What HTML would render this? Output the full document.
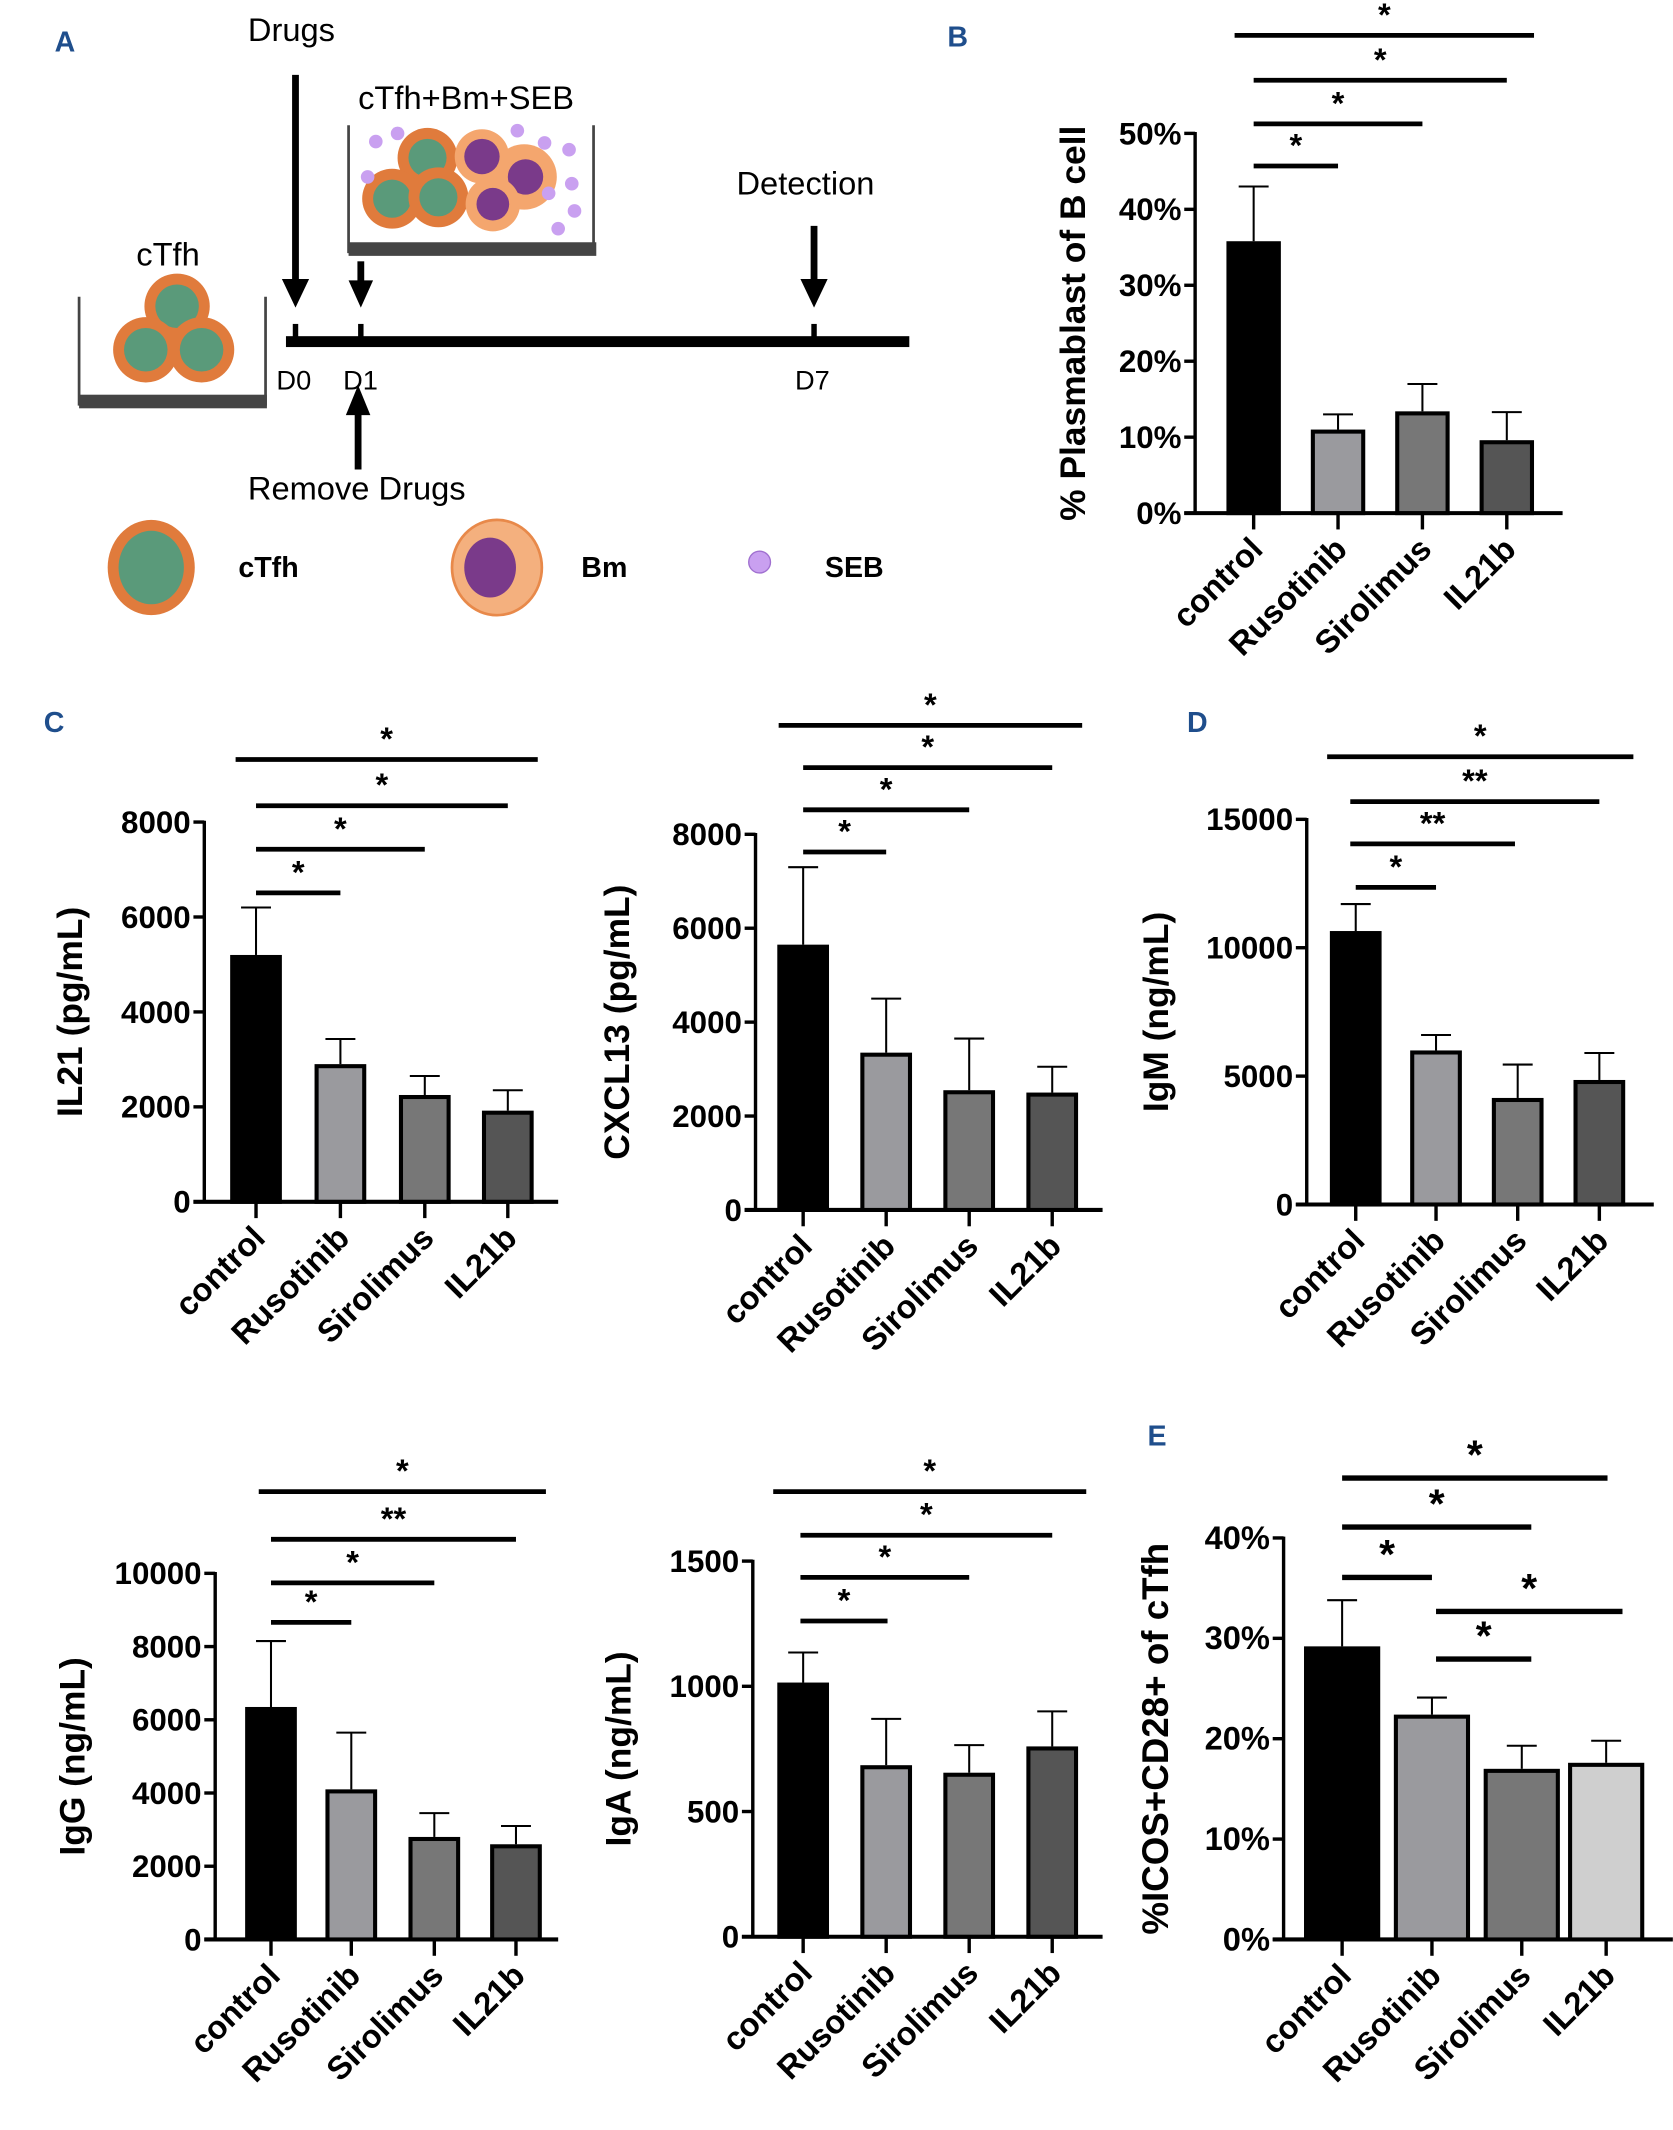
<!DOCTYPE html>
<html><head><meta charset="utf-8"><style>
html,body{margin:0;padding:0;background:#fff}
svg{display:block}
text{font-family:"Liberation Sans",Arial,sans-serif}
</style></head><body>
<svg id="fig" width="1673" height="2130" viewBox="0 0 1229 1565" xmlns="http://www.w3.org/2000/svg">
<rect width="1229" height="1565" fill="#fff"/>
<g font-weight="bold" fill="#1f4e8c" font-size="21">
<text x="40" y="38">A</text>
<text x="696" y="34">B</text>
<text x="32" y="538">C</text>
<text x="872" y="538">D</text>
<text x="843" y="1062">E</text>
</g>
<g id="schematic">
<text x="182" y="30" font-size="24">Drugs</text>
<line x1="217" y1="55" x2="217" y2="210" stroke="#000" stroke-width="5"/>
<polygon points="207,205 227,205 217,226" fill="#000"/>
<text x="263" y="80" font-size="24">cTfh+Bm+SEB</text>
<rect x="254" y="92" width="184" height="98" fill="#fff"/>
<line x1="256" y1="92" x2="256" y2="186" stroke="#444" stroke-width="2"/>
<line x1="436" y1="92" x2="436" y2="186" stroke="#444" stroke-width="2"/>
<rect x="256" y="178" width="182" height="10" fill="#444"/>
<g>
<circle cx="385" cy="130" r="24" fill="#f4a66e"/>
<circle cx="314" cy="116" r="22" fill="#e07b3c"/><circle cx="314" cy="116" r="14" fill="#5a9a7a"/>
<circle cx="288" cy="146" r="22" fill="#e07b3c"/><circle cx="288" cy="146" r="14" fill="#5a9a7a"/>
<circle cx="322" cy="145" r="22" fill="#e07b3c"/><circle cx="322" cy="145" r="14" fill="#5a9a7a"/>
<circle cx="354" cy="115" r="20" fill="#f4a66e"/><circle cx="354" cy="115" r="13" fill="#7a3a8a"/>
<circle cx="386" cy="130" r="13" fill="#7a3a8a"/>
<circle cx="362" cy="150" r="20" fill="#f4a66e"/><circle cx="362" cy="150" r="12" fill="#7a3a8a"/>
<circle cx="276" cy="104" r="5" fill="#c9a0f0"/><circle cx="292" cy="98" r="5" fill="#c9a0f0"/><circle cx="380" cy="96" r="5" fill="#c9a0f0"/><circle cx="400" cy="105" r="5" fill="#c9a0f0"/><circle cx="418" cy="110" r="5" fill="#c9a0f0"/><circle cx="420" cy="135" r="5" fill="#c9a0f0"/><circle cx="422" cy="155" r="5" fill="#c9a0f0"/><circle cx="410" cy="168" r="5" fill="#c9a0f0"/><circle cx="270" cy="130" r="5" fill="#c9a0f0"/><circle cx="403" cy="142" r="5" fill="#c9a0f0"/>
</g>
<text x="100" y="195" font-size="24">cTfh</text>
<line x1="58" y1="218" x2="58" y2="298" stroke="#444" stroke-width="2"/>
<line x1="195" y1="218" x2="195" y2="298" stroke="#444" stroke-width="2"/>
<rect x="58" y="290" width="138" height="10" fill="#444"/>
<g>
<circle cx="130" cy="225" r="24" fill="#e07b3c"/><circle cx="130" cy="225" r="16" fill="#5a9a7a"/>
<circle cx="107" cy="257" r="24" fill="#e07b3c"/><circle cx="107" cy="257" r="16" fill="#5a9a7a"/>
<circle cx="148" cy="257" r="24" fill="#e07b3c"/><circle cx="148" cy="257" r="16" fill="#5a9a7a"/>
</g>
<line x1="265" y1="192" x2="265" y2="210" stroke="#000" stroke-width="5"/>
<polygon points="256,206 274,206 265,226" fill="#000"/>
<text x="541" y="143" font-size="24">Detection</text>
<line x1="598" y1="166" x2="598" y2="210" stroke="#000" stroke-width="5"/>
<polygon points="588,205 608,205 598,226" fill="#000"/>
<rect x="210" y="247" width="458" height="8" fill="#000"/>
<line x1="217" y1="238" x2="217" y2="248" stroke="#000" stroke-width="4"/>
<line x1="265" y1="238" x2="265" y2="248" stroke="#000" stroke-width="4"/>
<line x1="598" y1="238" x2="598" y2="248" stroke="#000" stroke-width="4"/>
<text x="203" y="286" font-size="20">D0</text><text x="252" y="286" font-size="20">D1</text><text x="584" y="286" font-size="20">D7</text>
<line x1="263" y1="300" x2="263" y2="345" stroke="#000" stroke-width="5"/>
<polygon points="254,305 272,305 263,283" fill="#000"/>
<text x="182" y="367" font-size="24">Remove Drugs</text>
<g>
<ellipse cx="111" cy="417" rx="32" ry="35" fill="#e07b3c"/><ellipse cx="111" cy="417" rx="24" ry="27" fill="#5a9a7a"/>
<text x="175" y="424" font-size="21" font-weight="bold">cTfh</text>
<ellipse cx="365" cy="417" rx="33" ry="35" fill="#f4b07e" stroke="#e8894a" stroke-width="2"/><ellipse cx="360" cy="417" rx="19" ry="22" fill="#7a3a8a"/>
<text x="427" y="424" font-size="21" font-weight="bold">Bm</text>
<circle cx="558" cy="413" r="8" fill="#c9a0f0" stroke="#a070d0"/>
<text x="606" y="424" font-size="21" font-weight="bold">SEB</text>
</g>
</g>
<g id="charts"></g>
</svg>
<script>
const categories = ["control","Rusotinib","Sirolimus","IL21b"];
const plasmaVals = [35.8, 11, 13.4, 9.6];
const plasmaErr = [43, 13, 17, 13.3];
const il21Vals = [5200, 2900, 2250, 1920];
const il21Err = [6200, 3430, 2650, 2350];
const cxclVals = [5650, 3350, 2550, 2500];
const cxclErr = [7300, 4500, 3650, 3050];
const igmVals = [10650, 6000, 4150, 4850];
const igmErr = [11700, 6600, 5450, 5900];
const iggVals = [6350, 4100, 2800, 2600];
const iggErr = [8150, 5650, 3450, 3100];
const igaVals = [1015, 685, 655, 760];
const igaErr = [1135, 870, 765, 900];
const icosVals = [29.2, 22.4, 17, 17.6];
const icosErr = [33.8, 24.1, 19.3, 19.8];
const pctTicks = [0,10,20,30,40,50];
const icosTicks = [0,10,20,30,40];
const t8000 = [0,2000,4000,6000,8000];
const t15000 = [0,5000,10000,15000];
const t10000 = [0,2000,4000,6000,8000,10000];
const t1500 = [0,500,1000,1500];

const NS="http://www.w3.org/2000/svg";
const root=document.getElementById('charts');
function mk(tag,attrs,parent){const e=document.createElementNS(NS,tag);for(const k in attrs)e.setAttribute(k,attrs[k]);(parent||root).appendChild(e);return e;}

function chart(o){
  const g=mk('g',{});
  
  
  const y=v=>o.y0-(v-o.min)/(o.max-o.min)*(o.y0-o.yTop);
  const ax=mk('line',{x1:o.ax,y1:y(o.max)-1,x2:o.ax,y2:o.y0+1,stroke:'#000','stroke-width':2.5},g);
  
  
  const xl=mk('line',{x1:o.ax-8,y1:o.y0,x2:o.xEnd,y2:o.y0,stroke:'#000','stroke-width':3},g);
  
  
  o.ticks.forEach(t=>{
    mk('line',{x1:o.ax-8,y1:y(t),x2:o.ax,y2:y(t),stroke:'#000','stroke-width':2.5},g);
    const tx=mk('text',{x:o.ax-10,y:y(t)+8,'text-anchor':'end','font-size':o.tfs||23,'font-weight':'bold'},g);
    tx.textContent=o.fmt?o.fmt(t):t;
    
    
  });
  const cy=(y(o.max)+o.y0)/2;
  const tt=mk('text',{x:o.titleX,y:cy,'text-anchor':'middle','font-size':o.titleFs||26,'font-weight':'bold',transform:`rotate(-90 ${o.titleX} ${cy})`},g);
  tt.textContent=o.title;
  
  
  const bw=o.bw||38;
  o.vals.forEach((v,i)=>{
    const cx=o.xs[i];
    const el=mk('line',{x1:cx,y1:y(o.err[i]),x2:cx,y2:y(v),stroke:'#000','stroke-width':1.5},g);
    
    
    const cap=mk('line',{x1:cx-11,y1:y(o.err[i]),x2:cx+11,y2:y(o.err[i]),stroke:'#000','stroke-width':1.5},g);
    
    
    const r=mk('rect',{x:cx-bw/2+1.5,y:y(v)+1.5,width:bw-3,height:o.y0-y(v)-1.5,fill:o.colors[i],stroke:'#000','stroke-width':3},g);
    
    
    mk('line',{x1:cx,y1:o.y0,x2:cx,y2:o.y0+12,stroke:'#000','stroke-width':2.5},g);
    const lx=cx+8, ly=o.y0+28;
    const lb=mk('text',{x:lx,y:ly,'text-anchor':'end','font-size':o.lfs||24,'font-weight':'bold',transform:`rotate(-45 ${lx} ${ly})`},g);
    lb.textContent=categories[i];
    
    
  });
  o.brackets.forEach(b=>{
    const bl=mk('line',{x1:b[0],y1:b[2],x2:b[1],y2:b[2],stroke:'#000','stroke-width':o.bsw||3.5},g);
    
    
    const st=mk('text',{x:(b[0]+b[1])/2,y:b[2]-5+(o.sfs?o.sfs*0.55:12),'text-anchor':'middle','font-size':o.sfs||24,'font-weight':'bold'},g);
    st.setAttribute('dy', -(o.sfs?o.sfs*0.55:12)-2);
    st.textContent=b[3];
    
    
  });
}
const grey4=['#000','#9a9a9e','#777','#555'];
const pct=t=>t+'%';
chart({name:'chart-plasmablast',ax:878,y0:377,yTop:98,min:0,max:50,ticks:pctTicks,fmt:pct,xEnd:1148,xs:[921,983,1045,1107],bw:40,vals:plasmaVals,err:plasmaErr,colors:grey4,title:'% Plasmablast of B cell',titleX:797,titleFs:26,
  brackets:[[921,983,122,'*'],[921,1045,91,'*'],[921,1107,59,'*'],[907,1127,26,'*']]});
chart({name:'chart-il21',ax:150,y0:883,yTop:604,min:0,max:8000,ticks:t8000,xEnd:410,xs:[188,250,312,373],vals:il21Vals,err:il21Err,colors:grey4,title:'IL21 (pg/mL)',titleX:60,
  brackets:[[188,250,656,'*'],[188,312,624,'*'],[188,373,592,'*'],[173,395,558,'*']]});
chart({name:'chart-cxcl13',ax:555,y0:889,yTop:613,min:0,max:8000,ticks:t8000,xEnd:810,xs:[590,651,712,773],vals:cxclVals,err:cxclErr,colors:grey4,title:'CXCL13 (pg/mL)',titleX:462,
  brackets:[[590,651,626,'*'],[590,712,595,'*'],[590,773,564,'*'],[572,795,533,'*']]});
chart({name:'chart-igm',ax:960,y0:885,yTop:602,min:0,max:15000,ticks:t15000,xEnd:1215,xs:[996,1055,1115,1175],vals:igmVals,err:igmErr,colors:['#000','#9a9a9e','#777','#555'],title:'IgM (ng/mL)',titleX:858,
  brackets:[[996,1055,652,'*'],[992,1113,620,'**'],[992,1175,589,'**'],[975,1200,556,'*']]});
chart({name:'chart-igg',ax:158,y0:1425,yTop:1156,min:0,max:10000,ticks:t10000,xEnd:410,xs:[199,258,319,379],vals:iggVals,err:iggErr,colors:['#000','#9a9a9e','#777','#555'],title:'IgG (ng/mL)',titleX:62,
  brackets:[[199,258,1192,'*'],[199,319,1163,'*'],[199,379,1131,'**'],[190,401,1096,'*']]});
chart({name:'chart-iga',ax:553,y0:1423,yTop:1147,min:0,max:1500,ticks:t1500,xEnd:810,xs:[590,651,712,773],vals:igaVals,err:igaErr,colors:['#000','#9a9a9e','#777','#555'],title:'IgA (ng/mL)',titleX:463,
  brackets:[[588,652,1191,'*'],[588,712,1159,'*'],[588,773,1128,'*'],[568,798,1096,'*']]});
chart({name:'chart-icos',ax:943,y0:1425,yTop:1130,min:0,max:40,ticks:icosTicks,fmt:pct,xEnd:1229,xs:[986,1052,1118,1180],bw:56,vals:icosVals,err:icosErr,colors:['#000','#9a9a9e','#777','#cfcfcf'],title:'%ICOS+CD28+ of cTfh',titleX:858,titleFs:27,tfs:24,sfs:30,bsw:4,
  brackets:[[986,1052,1159,'*'],[986,1125,1122,'*'],[986,1181,1086,'*'],[1055,1192,1184,'*'],[1055,1125,1219,'*']]});
</script>
</body></html>
